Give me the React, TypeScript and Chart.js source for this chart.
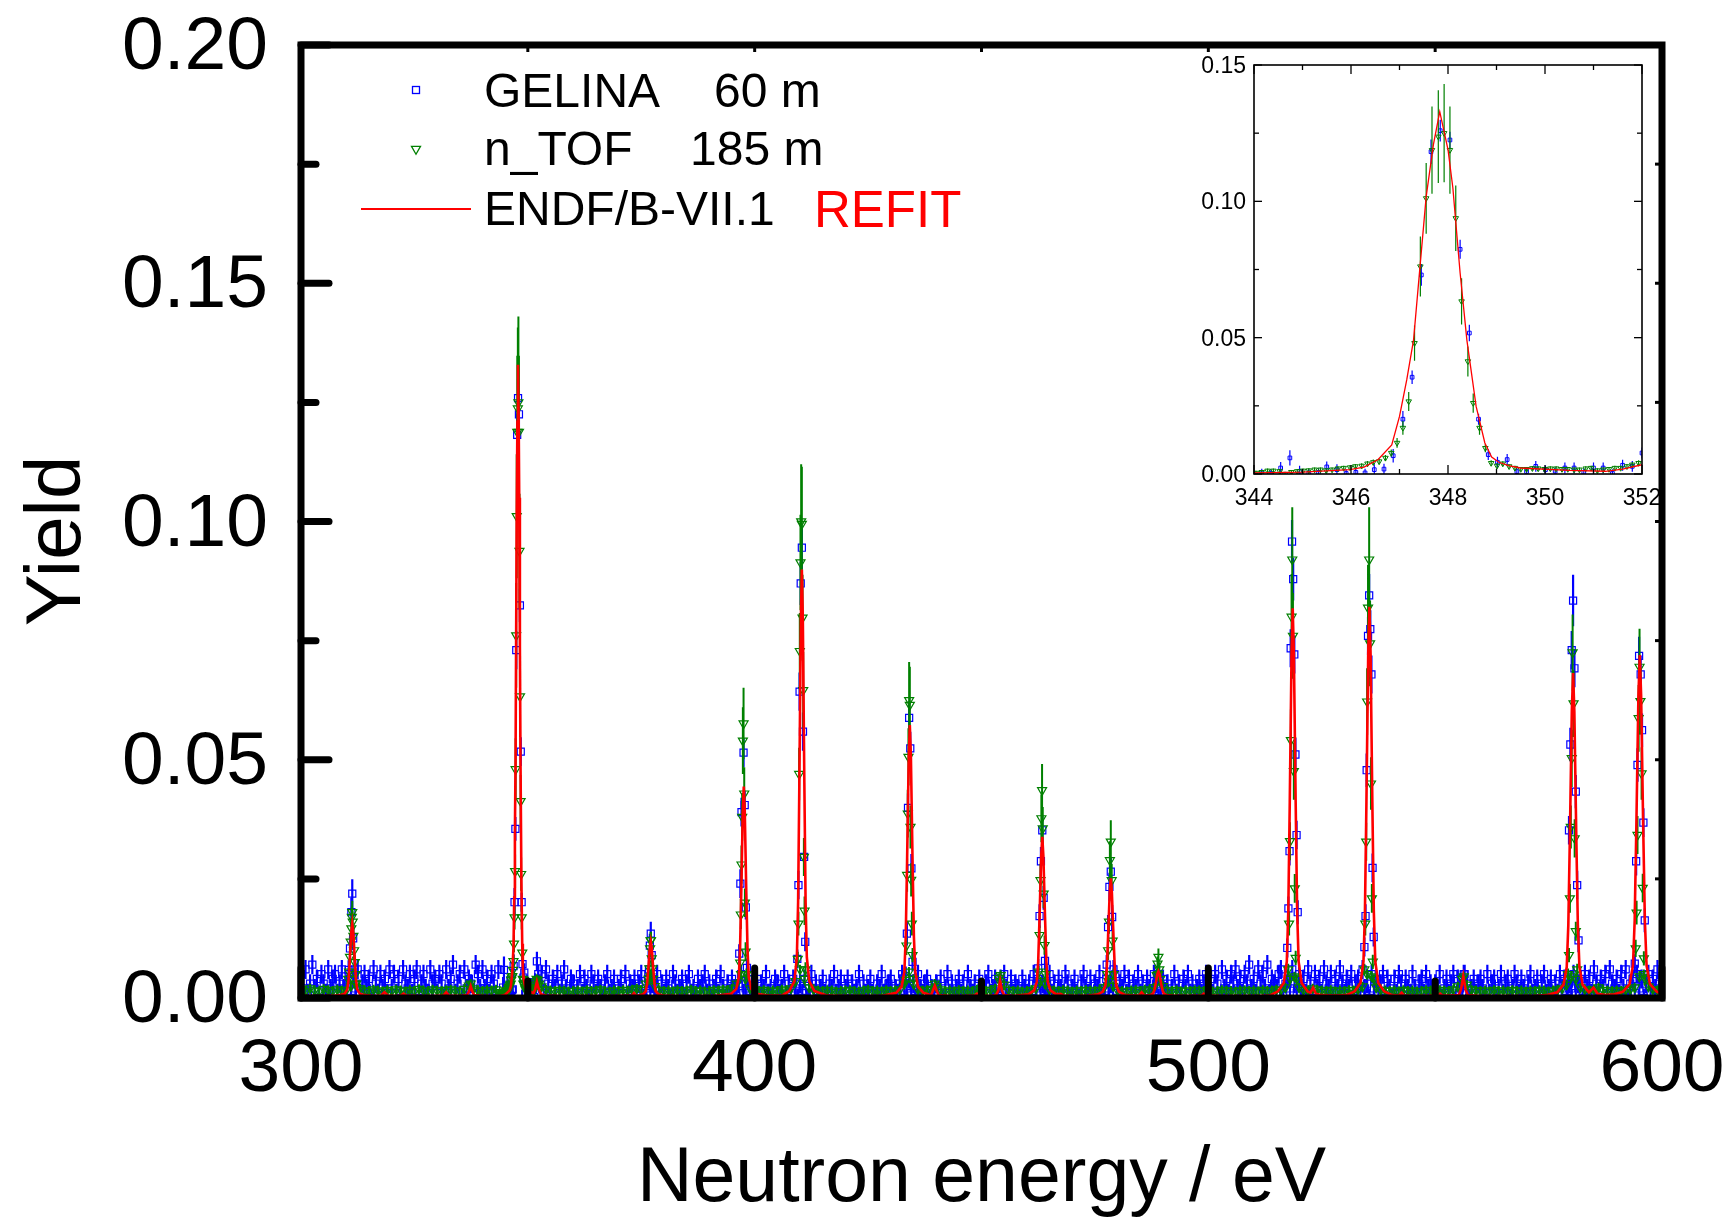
import React, { useEffect, useRef } from "react";
import { Chart, registerables } from "chart.js";

Chart.register(...registerables);

const FONT = '"Liberation Sans", Arial, Helvetica, sans-serif';

// ---- axis ticks ----
const mainXTicks = [300, 400, 500, 600];
const mainXMinor = [350, 450, 550];
const mainYTicks = [0, 0.05, 0.1, 0.15, 0.2];
const mainYMinor = [0.025, 0.075, 0.125, 0.175];
const insetXTicks = [344, 346, 348, 350, 352];
const insetXMinor = [345, 347, 349, 351];
const insetYTicks = [0, 0.05, 0.1, 0.15];
const insetYMinor = [0.025, 0.075, 0.125];

const xTitle = "Neutron energy / eV";
const yTitle = "Yield";
const legendNames = ["GELINA", "n_TOF", "ENDF/B-VII.1"];
const legendDistances = ["60 m", "185 m"];
const refitLabel = "REFIT";

// ---- GELINA 60 m: background channels (0.5 eV grid, value in 1e-3) ----
const gelinaBaseStart = 300;
const gelinaBaseStep = 0.5;
const gelinaBaseErr = 0.002;
const gelinaBaseMilli = [
  5,2,6,1,3,7,2,4,0,5,3,1,6,2,4,5,1,3,6,2,
  3,5,0,4,2,6,1,3,5,2,4,0,6,3,1,5,2,4,1,6,
  2,5,1,4,0,6,3,2,5,1,4,6,0,3,5,2,1,6,3,4,
  1,5,3,0,6,2,4,7,1,3,5,0,6,2,4,3,1,7,5,2,
  6,2,4,1,5,3,0,6,2,2,2,2,2,2,2,2,2,2,2,2,
  2,2,2,2,2,3,5,1,6,3,0,4,2,5,1,3,6,2,0,4,
  3,0,2,5,1,4,2,0,5,3,1,4,2,0,3,5,1,2,4,0,
  2,4,1,5,0,3,2,4,1,3,5,0,2,4,1,3,2,5,0,3,
  1,4,2,0,5,3,1,2,4,0,3,5,1,2,0,4,2,3,5,1,
  3,0,2,4,1,5,2,0,3,1,4,2,0,3,5,1,2,4,0,2,
  1,4,0,3,2,5,1,2,0,4,3,1,2,5,0,3,1,4,2,0,
  3,1,4,0,2,5,1,3,0,2,4,1,0,3,2,5,1,2,4,0,
  2,4,0,3,1,2,5,0,3,1,2,4,1,0,3,2,5,1,2,3,
  4,0,2,1,3,5,0,2,4,1,3,0,5,2,1,3,4,0,2,1,
  3,1,4,0,2,5,1,3,0,2,4,1,3,0,5,2,1,3,0,4,
  2,0,3,5,1,2,4,0,3,1,5,2,0,4,1,3,2,0,4,2,
  1,3,0,5,2,4,1,3,0,2,5,1,3,0,4,2,1,5,3,0,
  2,4,1,0,3,5,2,1,4,0,3,2,5,1,0,4,2,3,1,5,
  0,3,2,5,1,4,0,3,2,5,1,3,0,4,2,1,5,3,0,2,
  4,1,3,0,2,5,1,3,0,4,2,5,1,3,0,2,4,1,3,5,
  2,4,1,5,3,0,6,2,4,1,5,3,6,2,4,1,5,3,7,2,
  4,1,6,3,5,2,7,1,4,3,2,5,6,1,3,4,2,6,3,1,
  5,2,4,1,6,3,0,5,2,4,1,6,3,2,5,0,4,2,6,3,
  1,4,2,5,0,3,4,1,6,2,3,0,5,2,4,1,3,5,0,4,
  2,0,4,1,5,3,0,4,2,1,5,2,0,3,4,1,5,2,3,0,
  3,1,5,0,2,4,1,3,5,0,4,2,1,5,3,0,2,4,1,3,
  4,2,0,5,1,3,4,0,2,5,1,3,4,0,2,5,3,1,4,2,
  0,3,5,1,2,4,0,3,5,1,2,4,0,3,1,5,2,4,0,3,
  2,5,1,3,4,0,5,2,4,1,6,3,0,4,2,5,1,6,3,2,
  4,1,5,2,6,0,3,4,1,5,2,4,0,3,5,1,4,2,6,3,
  3,
];

// ---- n_TOF 185 m: background channels (1 eV grid, value in 1e-4) ----
const ntofBaseStart = 300;
const ntofBaseStep = 1;
const ntofBaseErr = 0.001;
const ntofBaseTenthMilli = [
  18,15,20,16,14,19,17,15,18,16,
  17,25,30,20,16,15,18,16,14,17,
  15,18,16,14,17,15,19,16,14,18,
  16,15,17,18,16,14,19,26,20,16,
  15,17,16,18,20,20,20,20,20,20,
  20,20,20,24,18,16,15,17,16,14,
  15,16,14,17,15,16,18,15,14,16,
  15,17,16,18,20,17,30,45,25,17,
  15,16,14,17,15,16,18,15,16,14,
  15,17,16,18,16,20,30,50,40,20,
  16,15,17,14,16,15,18,16,20,35,
  60,40,22,18,16,15,17,16,14,15,
  16,17,15,14,16,18,15,16,14,17,
  15,16,18,30,55,30,18,16,17,19,
  24,18,15,16,14,17,15,16,14,18,
  16,15,17,20,35,28,17,15,16,14,
  15,17,20,35,30,18,16,15,17,16,
  14,16,15,17,16,15,17,22,35,25,
  16,15,14,16,17,15,18,16,22,50,
  25,16,15,17,14,16,15,17,16,15,
  16,14,15,17,16,15,14,16,17,15,
  16,14,17,15,16,18,17,22,40,45,
  22,17,16,20,18,16,15,17,14,16,
  15,17,16,18,24,50,45,22,17,16,
  15,16,14,17,15,16,14,15,17,16,
  15,17,16,15,18,24,40,28,18,16,
  15,16,14,17,15,16,14,17,15,16,
  14,16,15,17,16,14,16,18,20,28,
  45,40,22,18,16,18,22,17,16,15,
  16,15,17,18,22,45,50,24,18,17,
  16,
];

// detailed scan window shown in the inset
const scanWindow = [344, 352];

// GELINA points in 344-352 eV: [E, yield, error]
const gelinaScan: number[][] = [
  [344.16,0.0004,0.0015],[344.35,0.0002,0.0015],[344.55,0.0022,0.0022],[344.74,0.0059,0.0028],
  [344.94,0.001,0.002],[345.13,0.0004,0.0015],[345.33,0.0006,0.0015],[345.5,0.0026,0.002],
  [345.71,0.0016,0.002],[345.9,0.0002,0.0015],[346.1,0.0006,0.0015],[346.29,0.0004,0.0015],
  [346.48,0.0016,0.002],[346.68,0.0018,0.002],[346.87,0.0067,0.0025],[347.07,0.0201,0.003],
  [347.26,0.0355,0.0025],[347.45,0.073,0.004],[347.65,0.1182,0.0045],[347.84,0.1259,0.004],
  [348.04,0.1225,0.003],[348.25,0.0824,0.0035],[348.44,0.0517,0.003],[348.63,0.0201,0.002],
  [348.83,0.0071,0.002],[349.02,0.0043,0.002],[349.22,0.0053,0.002],[349.42,0.0009,0.0015],
  [349.62,0.0009,0.0015],[349.81,0.0028,0.002],[350.01,0.0016,0.0015],[350.21,0.001,0.0015],
  [350.41,0.0022,0.002],[350.6,0.0022,0.002],[350.8,0.0006,0.0015],[351.0,0.0022,0.002],
  [351.2,0.0022,0.002],[351.39,0.0002,0.0015],[351.6,0.0032,0.002],[351.8,0.0028,0.002],
  [352.0,0.0077,0.002],
];

// n_TOF points in 344-352 eV: [E, yield, error]
const ntofScan: number[][] = [
  [344.04,0.0004,0.0008],[344.16,0.0007,0.0008],[344.28,0.0012,0.0008],[344.4,0.0012,0.0008],
  [344.53,0.001,0.0008],[344.64,0.0,0.0008],[344.77,0.0007,0.0008],[344.89,0.001,0.0008],
  [345.01,0.0012,0.0008],[345.13,0.0013,0.0008],[345.25,0.0016,0.0008],[345.37,0.0016,0.0008],
  [345.49,0.0013,0.0008],[345.61,0.0016,0.0008],[345.73,0.002,0.0008],[345.85,0.0022,0.0008],
  [345.98,0.0024,0.0008],[346.09,0.0028,0.0009],[346.22,0.003,0.0009],[346.34,0.0038,0.001],
  [346.46,0.0043,0.001],[346.58,0.0046,0.001],[346.71,0.0059,0.0011],[346.83,0.0077,0.0013],
  [346.95,0.0114,0.0018],[347.07,0.0169,0.0025],[347.19,0.0266,0.0035],[347.31,0.048,0.0065],
  [347.43,0.0761,0.011],[347.55,0.1011,0.013],[347.67,0.1188,0.016],[347.8,0.1237,0.017],
  [347.92,0.125,0.018],[348.04,0.1188,0.016],[348.16,0.0938,0.012],[348.28,0.0633,0.0085],
  [348.41,0.0413,0.0055],[348.52,0.026,0.0035],[348.65,0.0169,0.0025],[348.77,0.0095,0.0015],
  [348.89,0.004,0.001],[349.01,0.003,0.0009],[349.13,0.0038,0.0009],[349.26,0.0028,0.0008],
  [349.38,0.0022,0.0008],[349.5,0.0018,0.0008],[349.62,0.0018,0.0008],[349.74,0.0021,0.0008],
  [349.86,0.002,0.0008],[349.99,0.0018,0.0008],[350.11,0.002,0.0008],[350.23,0.002,0.0008],
  [350.35,0.0018,0.0008],[350.47,0.0018,0.0008],[350.6,0.0016,0.0008],[350.71,0.0016,0.0008],
  [350.84,0.002,0.0008],[350.95,0.0022,0.0008],[351.08,0.0013,0.0008],[351.2,0.0016,0.0008],
  [351.32,0.0018,0.0008],[351.44,0.0022,0.0008],[351.56,0.0022,0.0008],[351.69,0.0028,0.0009],
  [351.8,0.0034,0.0009],[351.93,0.004,0.001],
];

// GELINA points on the other resonances: [E, yield, error]
const gelinaPeaks: number[][] = [
  [310.5,0.0059,0.002],[310.8,0.0104,0.0025],[311.1,0.018,0.003],[311.3,0.0219,0.003],[311.5,0.0125,0.0025],[311.8,0.006,0.002],
  [352.3,0.005,0.002],
  [376.7,0.006,0.002],[376.9,0.011,0.0025],[377.1,0.0135,0.0025],[377.3,0.009,0.002],[377.5,0.004,0.002],
  [396.6,0.0093,0.002],[396.85,0.024,0.003],[397.1,0.039,0.003],[397.55,0.0515,0.003],[397.8,0.0405,0.003],[398.05,0.019,0.0025],[398.3,0.0063,0.002],
  [409.4,0.0082,0.002],[409.65,0.0237,0.003],[409.9,0.0643,0.004],[410.15,0.087,0.0045],[410.4,0.0945,0.0045],[410.65,0.0559,0.004],[410.9,0.0296,0.003],[411.15,0.0118,0.002],
  [433.3,0.0046,0.002],[433.55,0.0135,0.0025],[433.8,0.0399,0.003],[434.05,0.0588,0.0035],[434.3,0.0524,0.0035],[434.55,0.0272,0.003],[434.8,0.0076,0.002],
  [454.2,0.004,0.002],
  [462.5,0.0062,0.002],[462.8,0.0172,0.0025],[463.1,0.0287,0.003],[463.4,0.0352,0.003],[463.7,0.021,0.0025],[464.0,0.0078,0.002],
  [477.6,0.007,0.002],[477.9,0.0149,0.0025],[478.2,0.0233,0.003],[478.5,0.0265,0.003],[478.8,0.017,0.0025],[479.1,0.006,0.002],
  [488.7,0.004,0.002],[489.1,0.005,0.002],
  [517.4,0.0105,0.002],[517.65,0.0188,0.0025],[517.9,0.0308,0.003],[518.15,0.0734,0.004],[518.45,0.0958,0.0045],[518.7,0.0879,0.0045],[518.95,0.0721,0.004],[519.2,0.0511,0.0035],[519.45,0.0342,0.003],[519.7,0.018,0.0025],
  [534.4,0.0107,0.002],[534.65,0.0172,0.0025],[534.9,0.0478,0.0035],[535.2,0.076,0.004],[535.45,0.0845,0.0045],[535.7,0.0774,0.004],[535.95,0.0679,0.004],[536.2,0.0273,0.003],[536.45,0.0128,0.002],
  [556.3,0.005,0.002],
  [579.2,0.0027,0.002],[579.5,0.0352,0.003],[579.8,0.0532,0.0035],[580.1,0.073,0.004],[580.4,0.0834,0.0054],[580.7,0.0692,0.004],[581.0,0.0433,0.0035],[581.3,0.0237,0.003],[581.6,0.0121,0.0025],
  [594.0,0.0072,0.002],[594.3,0.0287,0.003],[594.6,0.0489,0.0035],[594.95,0.0718,0.004],[595.3,0.0679,0.004],[595.6,0.0562,0.0035],[595.9,0.0368,0.003],[596.2,0.0163,0.0025],
];

// n_TOF points on the other resonances: [E, yield, error]
const ntofPeaks: number[][] = [
  [310.4,0.004,0.0012],[310.6,0.0055,0.0014],[310.8,0.0086,0.0016],[310.95,0.0118,0.0018],[311.1,0.0146,0.002],[311.2,0.017,0.0022],[311.3,0.018,0.0024],[311.4,0.016,0.0022],[311.55,0.013,0.002],[311.7,0.01,0.0018],[311.85,0.0075,0.0015],[312.0,0.005,0.0013],[312.2,0.003,0.001],
  [337.4,0.003,0.001],[352.2,0.0038,0.001],[352.5,0.003,0.001],
  [376.6,0.004,0.0012],[376.8,0.0062,0.0014],[376.95,0.0104,0.0017],[377.05,0.0121,0.0018],[377.15,0.0121,0.0018],[377.3,0.0083,0.0015],[377.45,0.0062,0.0014],[377.6,0.004,0.0012],
  [396.8,0.0074,0.0015],[396.95,0.0175,0.003],[397.1,0.028,0.004],[397.25,0.038,0.005],[397.4,0.054,0.007],[397.55,0.0576,0.0075],[397.7,0.0429,0.0055],[397.85,0.02,0.003],[398.0,0.0097,0.002],[398.2,0.005,0.0012],
  [409.5,0.0082,0.0015],[409.65,0.0156,0.0025],[409.8,0.047,0.0055],[409.95,0.0728,0.008],[410.1,0.0914,0.01],[410.25,0.1,0.012],[410.4,0.0995,0.012],[410.55,0.0798,0.009],[410.7,0.0646,0.008],[410.85,0.0296,0.004],[411.0,0.0183,0.003],[411.2,0.006,0.0015],
  [433.3,0.0038,0.001],[433.45,0.011,0.002],[433.6,0.0258,0.0035],[433.75,0.0387,0.005],[433.9,0.0506,0.006],[434.05,0.0625,0.008],[434.2,0.0615,0.008],[434.35,0.0359,0.0045],[434.5,0.0248,0.0035],[434.65,0.0156,0.0025],[434.8,0.009,0.0015],[435.0,0.004,0.001],
  [439.7,0.003,0.001],[453.9,0.0042,0.001],[454.2,0.0048,0.001],
  [462.6,0.0055,0.0012],[462.8,0.0132,0.002],[463.0,0.0247,0.0035],[463.2,0.0377,0.005],[463.35,0.0436,0.0055],[463.5,0.0356,0.0045],[463.7,0.0219,0.003],[463.9,0.0111,0.002],[464.1,0.005,0.0012],
  [477.7,0.005,0.0012],[477.9,0.01,0.002],[478.1,0.016,0.0025],[478.3,0.0289,0.004],[478.5,0.0328,0.0045],[478.7,0.0247,0.0035],[478.9,0.012,0.002],[479.1,0.005,0.0012],
  [488.6,0.0048,0.0012],[488.8,0.0072,0.0015],[489.0,0.0086,0.0018],[489.2,0.006,0.0015],[489.4,0.004,0.0012],
  [517.6,0.006,0.0012],[517.8,0.0156,0.0025],[518.0,0.0329,0.004],[518.2,0.0541,0.0065],[518.35,0.08,0.009],[518.5,0.092,0.011],[518.65,0.076,0.009],[518.85,0.0476,0.006],[519.05,0.023,0.003],[519.25,0.0084,0.0015],[519.5,0.004,0.001],
  [534.4,0.006,0.0012],[534.6,0.0156,0.0025],[534.8,0.0328,0.004],[535.0,0.0622,0.007],[535.2,0.0819,0.009],[535.45,0.092,0.011],[535.65,0.0744,0.009],[535.85,0.045,0.0055],[536.05,0.0209,0.003],[536.25,0.0076,0.0015],[536.5,0.004,0.001],
  [556.0,0.004,0.001],[556.3,0.0045,0.001],
  [579.3,0.005,0.0012],[579.5,0.009,0.0015],[579.7,0.0209,0.003],[579.9,0.0359,0.0045],[580.1,0.0503,0.006],[580.3,0.0725,0.008],[580.5,0.0618,0.007],[580.75,0.0335,0.004],[581.0,0.014,0.002],[581.3,0.006,0.0012],
  [594.2,0.0104,0.0018],[594.4,0.0179,0.0025],[594.6,0.0342,0.004],[594.85,0.0587,0.007],[595.05,0.0695,0.008],[595.25,0.0623,0.007],[595.5,0.0471,0.0055],[595.75,0.0231,0.003],[596.0,0.0083,0.0015],[596.3,0.004,0.001],
];

// ENDF/B-VII.1 (REFIT) calculated yield: [E, yield]
const endfCurve: number[][] = [
  [300,0.0004],[304,0.0004],[307.5,0.0005],
  [308.55,0.0006],[309.65,0.0009],[310.2,0.0018],[310.475,0.0037],[310.75,0.008],[311.08,0.0138],[311.3,0.0156],[311.52,0.0138],[311.85,0.008],[312.125,0.0037],[312.4,0.0018],[312.95,0.0009],[314.05,0.0006],
  [316,0.0004],[317.6,0.0005],[318.4,0.0012],[319.2,0.0005],[321,0.0004],[322.0,0.0005],[322.6,0.0009],[323.2,0.0005],[326,0.0004],[329,0.0004],
  [331.4,0.0005],[332,0.0012],[332.6,0.0005],[335,0.0004],[336.6,0.0006],[337.0,0.0013],[337.4,0.0025],[337.8,0.0013],[338.2,0.0006],[340,0.0004],[342,0.0004],
  [344.0,0.0004],[345.0,0.0007],[345.98,0.0016],[346.27,0.0025],[346.56,0.0053],[346.84,0.0107],[347.0,0.0211],[347.15,0.0346],[347.29,0.0492],[347.55,0.1017],[347.7,0.1209],[347.83,0.1329],
  [348.0,0.119],[348.1,0.105],[348.25,0.0737],[348.39,0.049],[348.58,0.0248],[348.76,0.0114],[348.9,0.0062],[349.05,0.0043],[349.25,0.0031],[349.49,0.0022],[350.5,0.0013],[351.25,0.001],[351.6,0.0018],[352.0,0.0034],[352.4,0.0019],[352.9,0.0008],[354,0.0005],
  [357,0.0004],[361,0.0004],[365,0.0004],[369,0.0004],[373.0,0.0005],[373.4,0.001],[373.8,0.0005],
  [374.35,0.0005],[375.45,0.0008],[376.0,0.0014],[376.275,0.0029],[376.55,0.0061],[376.88,0.0104],[377.1,0.0118],[377.32,0.0104],[377.65,0.0061],[377.925,0.0029],[378.2,0.0014],[378.75,0.0008],[379.85,0.0005],
  [383,0.0004],[387,0.0004],[391,0.0004],
  [394.85,0.0009],[395.95,0.0019],[396.5,0.0044],[396.775,0.0101],[397.05,0.0224],[397.38,0.0391],[397.6,0.0444],[397.82,0.0391],[398.15,0.0224],[398.425,0.0101],[398.7,0.0044],[399.25,0.0019],[400.35,0.0009],
  [403,0.0005],[406,0.0005],
  [407.65,0.0015],[408.75,0.0035],[409.3,0.0085],[409.575,0.0201],[409.85,0.0452],[410.18,0.0792],[410.4,0.0899],[410.62,0.0792],[410.95,0.0452],[411.225,0.0201],[411.5,0.0085],[412.05,0.0035],[413.15,0.0015],
  [416,0.0005],[420,0.0004],[424,0.0004],[428,0.0004],
  [431.2,0.0011],[432.4,0.0024],[433.0,0.0055],[433.3,0.0129],[433.6,0.0289],[433.96,0.0505],[434.2,0.0573],[434.44,0.0505],[434.8,0.0289],[435.1,0.0129],[435.4,0.0055],[436.0,0.0024],[437.2,0.0011],
  [438.9,0.0006],[439.7,0.0026],[440.5,0.0006],[443,0.0004],[446,0.0004],[448.5,0.0005],[449,0.0009],[449.5,0.0005],[452,0.0004],
  [453.2,0.0006],[453.7,0.0015],[454.1,0.0036],[454.5,0.0015],[455.0,0.0006],[457,0.0004],
  [460.4,0.0008],[461.6,0.0016],[462.2,0.0034],[462.5,0.0077],[462.8,0.0171],[463.16,0.0298],[463.4,0.0338],[463.64,0.0298],[464.0,0.0171],[464.3,0.0077],[464.6,0.0034],[465.2,0.0016],[466.4,0.0008],
  [467.4,0.0009],[468.2,0.0005],[471,0.0004],[473.5,0.0005],
  [475.5,0.0007],[476.7,0.0013],[477.3,0.0026],[477.6,0.0058],[477.9,0.0128],[478.26,0.0221],[478.5,0.0251],[478.74,0.0221],[479.1,0.0128],[479.4,0.0058],[479.7,0.0026],[480.3,0.0013],[481.5,0.0007],
  [483,0.0005],[484.7,0.0005],[485.3,0.0012],[485.9,0.0005],
  [487.2,0.0006],[487.8,0.0009],[488.1,0.0016],[488.4,0.003],[488.76,0.005],[489.0,0.0056],[489.24,0.005],[489.6,0.003],[489.9,0.0016],[490.2,0.0009],[490.8,0.0006],[492,0.0005],
  [495,0.0004],[498.5,0.0005],[499,0.0009],[499.5,0.0005],[503,0.0004],[507,0.0004],[511,0.0004],[513.5,0.0005],
  [515.35,0.0014],[516.65,0.0032],[517.3,0.0077],[517.625,0.0183],[517.95,0.0411],[518.34,0.072],[518.6,0.0818],[518.86,0.072],[519.25,0.0411],[519.575,0.0183],[519.9,0.0077],[520.55,0.0032],[521.85,0.0014],
  [522.5,0.0011],[523.1,0.0022],[523.7,0.0009],[525,0.0006],[528,0.0005],[530.5,0.0006],
  [532.25,0.0014],[533.55,0.0032],[534.2,0.0077],[534.525,0.0183],[534.85,0.0412],[535.24,0.0723],[535.5,0.0821],[535.76,0.0723],[536.15,0.0412],[536.475,0.0183],[536.8,0.0077],[537.45,0.0032],[538.75,0.0014],
  [540.5,0.0006],[542.0,0.0005],[542.6,0.0011],[543.2,0.0005],[546,0.0004],[550.6,0.0005],[551.1,0.0009],[551.6,0.0005],[553.5,0.0005],
  [555.2,0.0006],[555.7,0.0018],[556.2,0.0046],[556.7,0.0018],[557.2,0.0006],[560,0.0004],[564,0.0004],[568,0.0004],[572,0.0004],[574.5,0.0006],
  [576.9,0.0012],[578.3,0.0028],[579.0,0.0065],[579.35,0.0153],[579.7,0.0343],[580.12,0.0601],[580.4,0.0682],[580.68,0.0601],[581.1,0.0343],[581.45,0.0153],[581.8,0.0065],[582.5,0.0028],[583.9,0.0012],
  [584.9,0.0022],[585.8,0.0009],[587.5,0.0006],[589.5,0.0008],
  [591.35,0.0013],[592.85,0.0029],[593.6,0.0068],[593.975,0.0162],[594.35,0.0362],[594.8,0.0634],[595.1,0.072],[595.4,0.0634],[595.85,0.0362],[596.225,0.0162],[596.6,0.0068],[597.35,0.0029],[598.85,0.0013],[600,0.0008],
];

// ---------- helpers ----------
const BLUE = "#0000ff";
const GREEN = "#008000";
const RED = "#ff0000";

function gridPoints(start: number, step: number, values: number[], unit: number, err: number) {
  const out: any[] = [];
  values.forEach((v, i) => {
    const x = start + i * step;
    if (x >= scanWindow[0] && x <= scanWindow[1]) return;
    out.push({ x, y: v * unit, err });
  });
  return out;
}
const toPts = (arr: number[][]) => arr.map(([x, y, err]) => ({ x, y, err }));
const toLine = (arr: number[][]) => arr.map(([x, y]) => ({ x, y }));

const errorBarPlugin = {
  id: "errorBars",
  beforeDatasetDraw(chart: any, args: any) {
    const ds = chart.data.datasets[args.index];
    if (!ds.errColor) return;
    const meta = args.meta;
    const ys = chart.scales.y;
    const a = chart.chartArea;
    const ctx = chart.ctx;
    ctx.save();
    ctx.beginPath();
    ctx.rect(a.left, a.top, a.right - a.left, a.bottom - a.top);
    ctx.clip();
    ctx.strokeStyle = ds.errColor;
    ctx.lineWidth = ds.errWidth;
    ctx.beginPath();
    ds.data.forEach((p: any, j: number) => {
      const el = meta.data[j];
      if (!el || !p.err) return;
      ctx.moveTo(el.x, ys.getPixelForValue(p.y - p.err));
      ctx.lineTo(el.x, ys.getPixelForValue(p.y + p.err));
    });
    ctx.stroke();
    ctx.restore();
  },
};

function seg(ctx: CanvasRenderingContext2D, x1: number, y1: number, x2: number, y2: number) {
  ctx.beginPath();
  ctx.moveTo(x1, y1);
  ctx.lineTo(x2, y2);
  ctx.stroke();
}

function drawDownTriangle(ctx: CanvasRenderingContext2D, x: number, y: number, r: number) {
  const h = Math.sqrt(3) / 2 * r;
  ctx.beginPath();
  ctx.moveTo(x - h, y - r / 2);
  ctx.lineTo(x + h, y - r / 2);
  ctx.lineTo(x, y + r);
  ctx.closePath();
  ctx.stroke();
}

const mainAxesPlugin = {
  id: "mainAxes",
  afterDraw(chart: any) {
    const ctx: CanvasRenderingContext2D = chart.ctx;
    const a = chart.chartArea;
    const xs = chart.scales.x;
    const ys = chart.scales.y;
    ctx.save();
    ctx.strokeStyle = "#000";
    ctx.lineCap = "round";
    ctx.lineWidth = 7;
    mainYTicks.forEach((v) => { const y = ys.getPixelForValue(v); seg(ctx, a.left, y, a.left + 28, y); });
    mainYMinor.forEach((v) => { const y = ys.getPixelForValue(v); seg(ctx, a.left, y, a.left + 15, y); });
    mainXTicks.forEach((v) => { const x = xs.getPixelForValue(v); seg(ctx, x, a.bottom, x, a.bottom - 30); });
    mainXMinor.forEach((v) => { const x = xs.getPixelForValue(v); seg(ctx, x, a.bottom, x, a.bottom - 17); });
    ctx.lineCap = "butt";
    ctx.lineWidth = 3;
    [...mainXTicks, ...mainXMinor].forEach((v) => { const x = xs.getPixelForValue(v); seg(ctx, x, a.top, x, a.top + 7); });
    [...mainYTicks, ...mainYMinor].forEach((v) => { const y = ys.getPixelForValue(v); seg(ctx, a.right, y, a.right - 7, y); });
    ctx.lineWidth = 7;
    ctx.lineJoin = "miter";
    ctx.strokeRect(a.left, a.top, a.right - a.left, a.bottom - a.top);

    ctx.fillStyle = "#000";
    ctx.textBaseline = "alphabetic";
    ctx.font = `75px ${FONT}`;
    ctx.textAlign = "right";
    mainYTicks.forEach((v) => { const y = ys.getPixelForValue(v); ctx.fillText(v.toFixed(2), a.left - 33, y + 24); });
    ctx.textAlign = "center";
    mainXTicks.forEach((v) => { const x = xs.getPixelForValue(v); ctx.fillText(String(v), x, a.bottom + 93); });

    ctx.font = `77px ${FONT}`;
    ctx.fillText(xTitle, (a.left + a.right) / 2, 1201);
    ctx.save();
    ctx.translate(80, 541);
    ctx.rotate(-Math.PI / 2);
    ctx.font = `78px ${FONT}`;
    ctx.fillText(yTitle, 0, 0);
    ctx.restore();

    ctx.textAlign = "left";
    ctx.font = `48px ${FONT}`;
    ctx.fillStyle = "#000";
    ctx.fillText(legendNames[0], 484, 107);
    ctx.fillText(legendDistances[0], 714, 107);
    ctx.fillText(legendNames[1], 484, 165);
    ctx.fillText(legendDistances[1], 690, 165);
    ctx.fillText(legendNames[2], 484, 225);
    ctx.fillStyle = RED;
    ctx.font = `51px ${FONT}`;
    ctx.fillText(refitLabel, 814, 227);
    ctx.lineWidth = 1.3;
    ctx.strokeStyle = BLUE;
    ctx.strokeRect(412.5, 86.5, 7, 7);
    ctx.strokeStyle = GREEN;
    drawDownTriangle(ctx, 416, 149, 5.2);
    ctx.strokeStyle = RED;
    ctx.lineWidth = 2;
    seg(ctx, 361, 209, 471, 209);
    ctx.restore();
  },
};

const insetAxesPlugin = {
  id: "insetAxes",
  afterDraw(chart: any) {
    const ctx: CanvasRenderingContext2D = chart.ctx;
    const a = chart.chartArea;
    const xs = chart.scales.x;
    const ys = chart.scales.y;
    ctx.save();
    ctx.strokeStyle = "#000";
    ctx.lineWidth = 1.3;
    insetYTicks.forEach((v) => { const y = ys.getPixelForValue(v); seg(ctx, a.left, y, a.left + 8, y); seg(ctx, a.right, y, a.right - 8, y); });
    insetYMinor.forEach((v) => { const y = ys.getPixelForValue(v); seg(ctx, a.left, y, a.left + 5, y); seg(ctx, a.right, y, a.right - 5, y); });
    insetXTicks.forEach((v) => { const x = xs.getPixelForValue(v); seg(ctx, x, a.bottom, x, a.bottom - 9); seg(ctx, x, a.top, x, a.top + 9); });
    insetXMinor.forEach((v) => { const x = xs.getPixelForValue(v); seg(ctx, x, a.bottom, x, a.bottom - 5); seg(ctx, x, a.top, x, a.top + 5); });
    ctx.lineWidth = 1.6;
    ctx.strokeRect(a.left, a.top, a.right - a.left, a.bottom - a.top);
    ctx.fillStyle = "#000";
    ctx.font = `23px ${FONT}`;
    ctx.textBaseline = "alphabetic";
    ctx.textAlign = "right";
    insetYTicks.forEach((v) => { const y = ys.getPixelForValue(v); ctx.fillText(v.toFixed(2), a.left - 8, y + 8); });
    ctx.textAlign = "center";
    insetXTicks.forEach((v) => { const x = xs.getPixelForValue(v); ctx.fillText(String(v), x, a.bottom + 31); });
    ctx.restore();
  },
};

function makeDatasets(inset: boolean) {
  const gelinaData = inset
    ? toPts(gelinaScan)
    : [...gridPoints(gelinaBaseStart, gelinaBaseStep, gelinaBaseMilli, 0.001, gelinaBaseErr), ...toPts(gelinaScan), ...toPts(gelinaPeaks)];
  const ntofData = inset
    ? toPts(ntofScan)
    : [...gridPoints(ntofBaseStart, ntofBaseStep, ntofBaseTenthMilli, 0.0001, ntofBaseErr), ...toPts(ntofScan), ...toPts(ntofPeaks)];
  return [
    {
      label: "ENDF/B-VII.1 REFIT",
      data: toLine(endfCurve),
      showLine: true,
      borderColor: RED,
      borderWidth: inset ? 1.3 : 2.6,
      pointRadius: 0,
      tension: 0,
      fill: false,
    },
    {
      label: "n_TOF 185 m",
      data: ntofData,
      showLine: false,
      pointStyle: "triangle",
      pointRotation: 180,
      pointRadius: inset ? 3.2 : 5.2,
      pointBorderColor: GREEN,
      pointBackgroundColor: "rgba(0,0,0,0)",
      pointBorderWidth: inset ? 1 : 1.2,
      borderColor: GREEN,
      backgroundColor: "rgba(0,0,0,0)",
      errColor: GREEN,
      errWidth: inset ? 1.2 : 2,
    },
    {
      label: "GELINA 60 m",
      data: gelinaData,
      showLine: false,
      pointStyle: "rect",
      pointRadius: inset ? 2.6 : 5,
      pointBorderColor: BLUE,
      pointBackgroundColor: "rgba(0,0,0,0)",
      pointBorderWidth: inset ? 1 : 1.2,
      borderColor: BLUE,
      backgroundColor: "rgba(0,0,0,0)",
      errColor: BLUE,
      errWidth: inset ? 1.2 : 2.2,
    },
  ];
}

function makeConfig(inset: boolean): any {
  return {
    type: "scatter",
    data: { datasets: makeDatasets(inset) },
    options: {
      responsive: false,
      maintainAspectRatio: false,
      devicePixelRatio: 1,
      animation: false,
      events: [],
      layout: inset
        ? { padding: { left: 64, right: 18, top: 15, bottom: 46 } }
        : { padding: { left: 301, right: 74, top: 45, bottom: 219 } },
      plugins: { legend: { display: false }, tooltip: { enabled: false }, title: { display: false } },
      scales: {
        x: { type: "linear", min: inset ? 344 : 300, max: inset ? 352 : 600, display: false },
        y: { type: "linear", min: 0, max: inset ? 0.15 : 0.2, display: false },
      },
    },
    plugins: [errorBarPlugin, inset ? insetAxesPlugin : mainAxesPlugin],
  };
}

export default function App() {
  const mainRef = useRef<HTMLCanvasElement>(null);
  const insetRef = useRef<HTMLCanvasElement>(null);
  useEffect(() => {
    const main = new Chart(mainRef.current as HTMLCanvasElement, makeConfig(false));
    const inset = new Chart(insetRef.current as HTMLCanvasElement, makeConfig(true));
    return () => {
      main.destroy();
      inset.destroy();
    };
  }, []);
  return (
    <div style={{ position: "absolute", left: 0, top: 0, width: 1736, height: 1217, background: "#fff", overflow: "hidden" }}>
      <canvas ref={mainRef} width={1736} height={1217} style={{ position: "absolute", left: 0, top: 0, width: 1736, height: 1217 }} />
      <canvas ref={insetRef} width={470} height={470} style={{ position: "absolute", left: 1190, top: 50, width: 470, height: 470 }} />
    </div>
  );
}
